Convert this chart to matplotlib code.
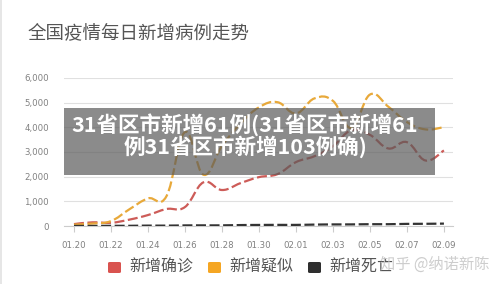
import numpy as np
import matplotlib
matplotlib.use("Agg")
import matplotlib.pyplot as plt
from matplotlib.path import Path
from matplotlib.patches import PathPatch, Rectangle, FancyBboxPatch

plt.rcParams['font.family'] = ['Noto Sans CJK SC', 'DejaVu Sans']

# ── data ─────────────────────────────────────────────────────────────────────
dates = ["01.20", "01.21", "01.22", "01.23", "01.24", "01.25", "01.26", "01.27",
         "01.28", "01.29", "01.30", "01.31", "02.01", "02.02", "02.03", "02.04",
         "02.05", "02.06", "02.07", "02.08", "02.09"]
confirmed = [77, 149, 131, 259, 444, 688, 769, 1771, 1459, 1737, 1982, 2102,
             2590, 2829, 3235, 3887, 3694, 3143, 3399, 2656, 3062]
suspected = [54, 100, 200, 680, 1118, 1209, 3806, 2077, 3248, 4148, 4812, 5019,
             4562, 5173, 5072, 3971, 5328, 4833, 4214, 3916, 4008]
deaths = [3, 3, 8, 8, 16, 15, 24, 26, 26, 38, 43, 46, 45, 57, 64, 65, 73, 73,
          86, 89, 97]
series_names = ["新增确诊", "新增疑似", "新增死亡"]
series_colors = ["#cd5c58", "#e8a93a", "#333333"]
legend_colors = ["#d9534f", "#f5a623", "#2f2f2f"]
yticks = [0, 1000, 2000, 3000, 4000, 5000, 6000]

title = "全国疫情每日新增病例走势"
banner = ["31省区市新增61例(31省区市新增61", "例31省区市新增103例确)"]


def smooth_path(x, y, s=0.2):
    # cubic bezier through the points (echarts-like smooth line)
    x = np.asarray(x, float)
    y = np.asarray(y, float)
    verts = [(x[0], y[0])]
    codes = [Path.MOVETO]
    n = len(x)
    for i in range(n - 1):
        p0 = max(i - 1, 0)
        p3 = min(i + 2, n - 1)
        c1 = (x[i] + s * (x[i + 1] - x[p0]), y[i] + s * (y[i + 1] - y[p0]))
        c2 = (x[i + 1] - s * (x[p3] - x[i]), y[i + 1] - s * (y[p3] - y[i]))
        verts += [c1, c2, (x[i + 1], y[i + 1])]
        codes += [Path.CURVE4] * 3
    return Path(verts, codes)


fig = plt.figure(figsize=(5.0, 2.84), dpi=100)
ax = fig.add_axes([0.128, 1 - 226 / 284, 0.906 - 0.128, (226 - 78) / 284])

xs = np.arange(len(dates))
for vals, col in zip([confirmed, suspected, deaths], series_colors):
    ax.add_patch(PathPatch(smooth_path(xs, vals), fill=False, edgecolor=col,
                           lw=1.6, linestyle=(0, (4.5, 1.6)), capstyle="butt",
                           zorder=3))

ax.set_xlim(-0.54, 20.49)
ax.set_ylim(0, 6000)
ax.set_yticks(yticks)
ax.set_yticklabels([f"{v:,}" for v in yticks], family="DejaVu Sans")
ax.set_xticks(xs[::2])
ax.set_xticklabels(dates[::2], family="DejaVu Sans")
ax.tick_params(axis="y", length=0, labelsize=6.2, labelcolor="#808080", pad=11)
ax.tick_params(axis="x", length=4, color="#cccccc", labelsize=6.2,
               labelcolor="#808080", pad=7)
ax.grid(axis="y", color="#e0e0e0", lw=0.8)
for sp in ["top", "right", "left"]:
    ax.spines[sp].set_visible(False)
ax.spines["bottom"].set_color("#cccccc")
ax.set_axisbelow(True)

# title
fig.text(28 / 500, 1 - 33 / 284, title, fontsize=13.3, color="#555555",
         va="center", ha="left")

# legend
for i, (name, col) in enumerate(zip(series_names, legend_colors)):
    x0 = 108 + i * 100
    fig.patches.append(FancyBboxPatch((x0 / 500, 1 - 273 / 284), 13 / 500, 11 / 284,
                                      boxstyle="round,pad=0,rounding_size=0.004",
                                      transform=fig.transFigure, fc=col, ec="none"))
    fig.text((x0 + 21) / 500, 1 - 267 / 284, name, fontsize=11.5, color="#555555",
             va="center", ha="left")

# watermark
fig.text(380 / 500, 1 - 264 / 284, "知乎 @纳诺新陈", fontsize=11, color="#c8c8c8",
         va="center", ha="left", alpha=0.9)

# grey banner with headline
fig.patches.append(Rectangle((64 / 500, 1 - 175 / 284), (435 - 64) / 500, 67 / 284,
                             transform=fig.transFigure, fc="#5a5a5a", ec="none",
                             alpha=0.7, zorder=5))
for k, line in enumerate(banner):
    fig.text(245 / 500, 1 - (125 + 22 * k) / 284, line, fontsize=15.5,
             fontweight="bold", color="white", ha="center", va="center", zorder=6)

# faint left border of the screenshot
fig.patches.append(Rectangle((0, 0), 2 / 500, 1, transform=fig.transFigure,
                             fc="#e6e6e6", ec="none"))

fig.savefig("out.png", dpi=100)
